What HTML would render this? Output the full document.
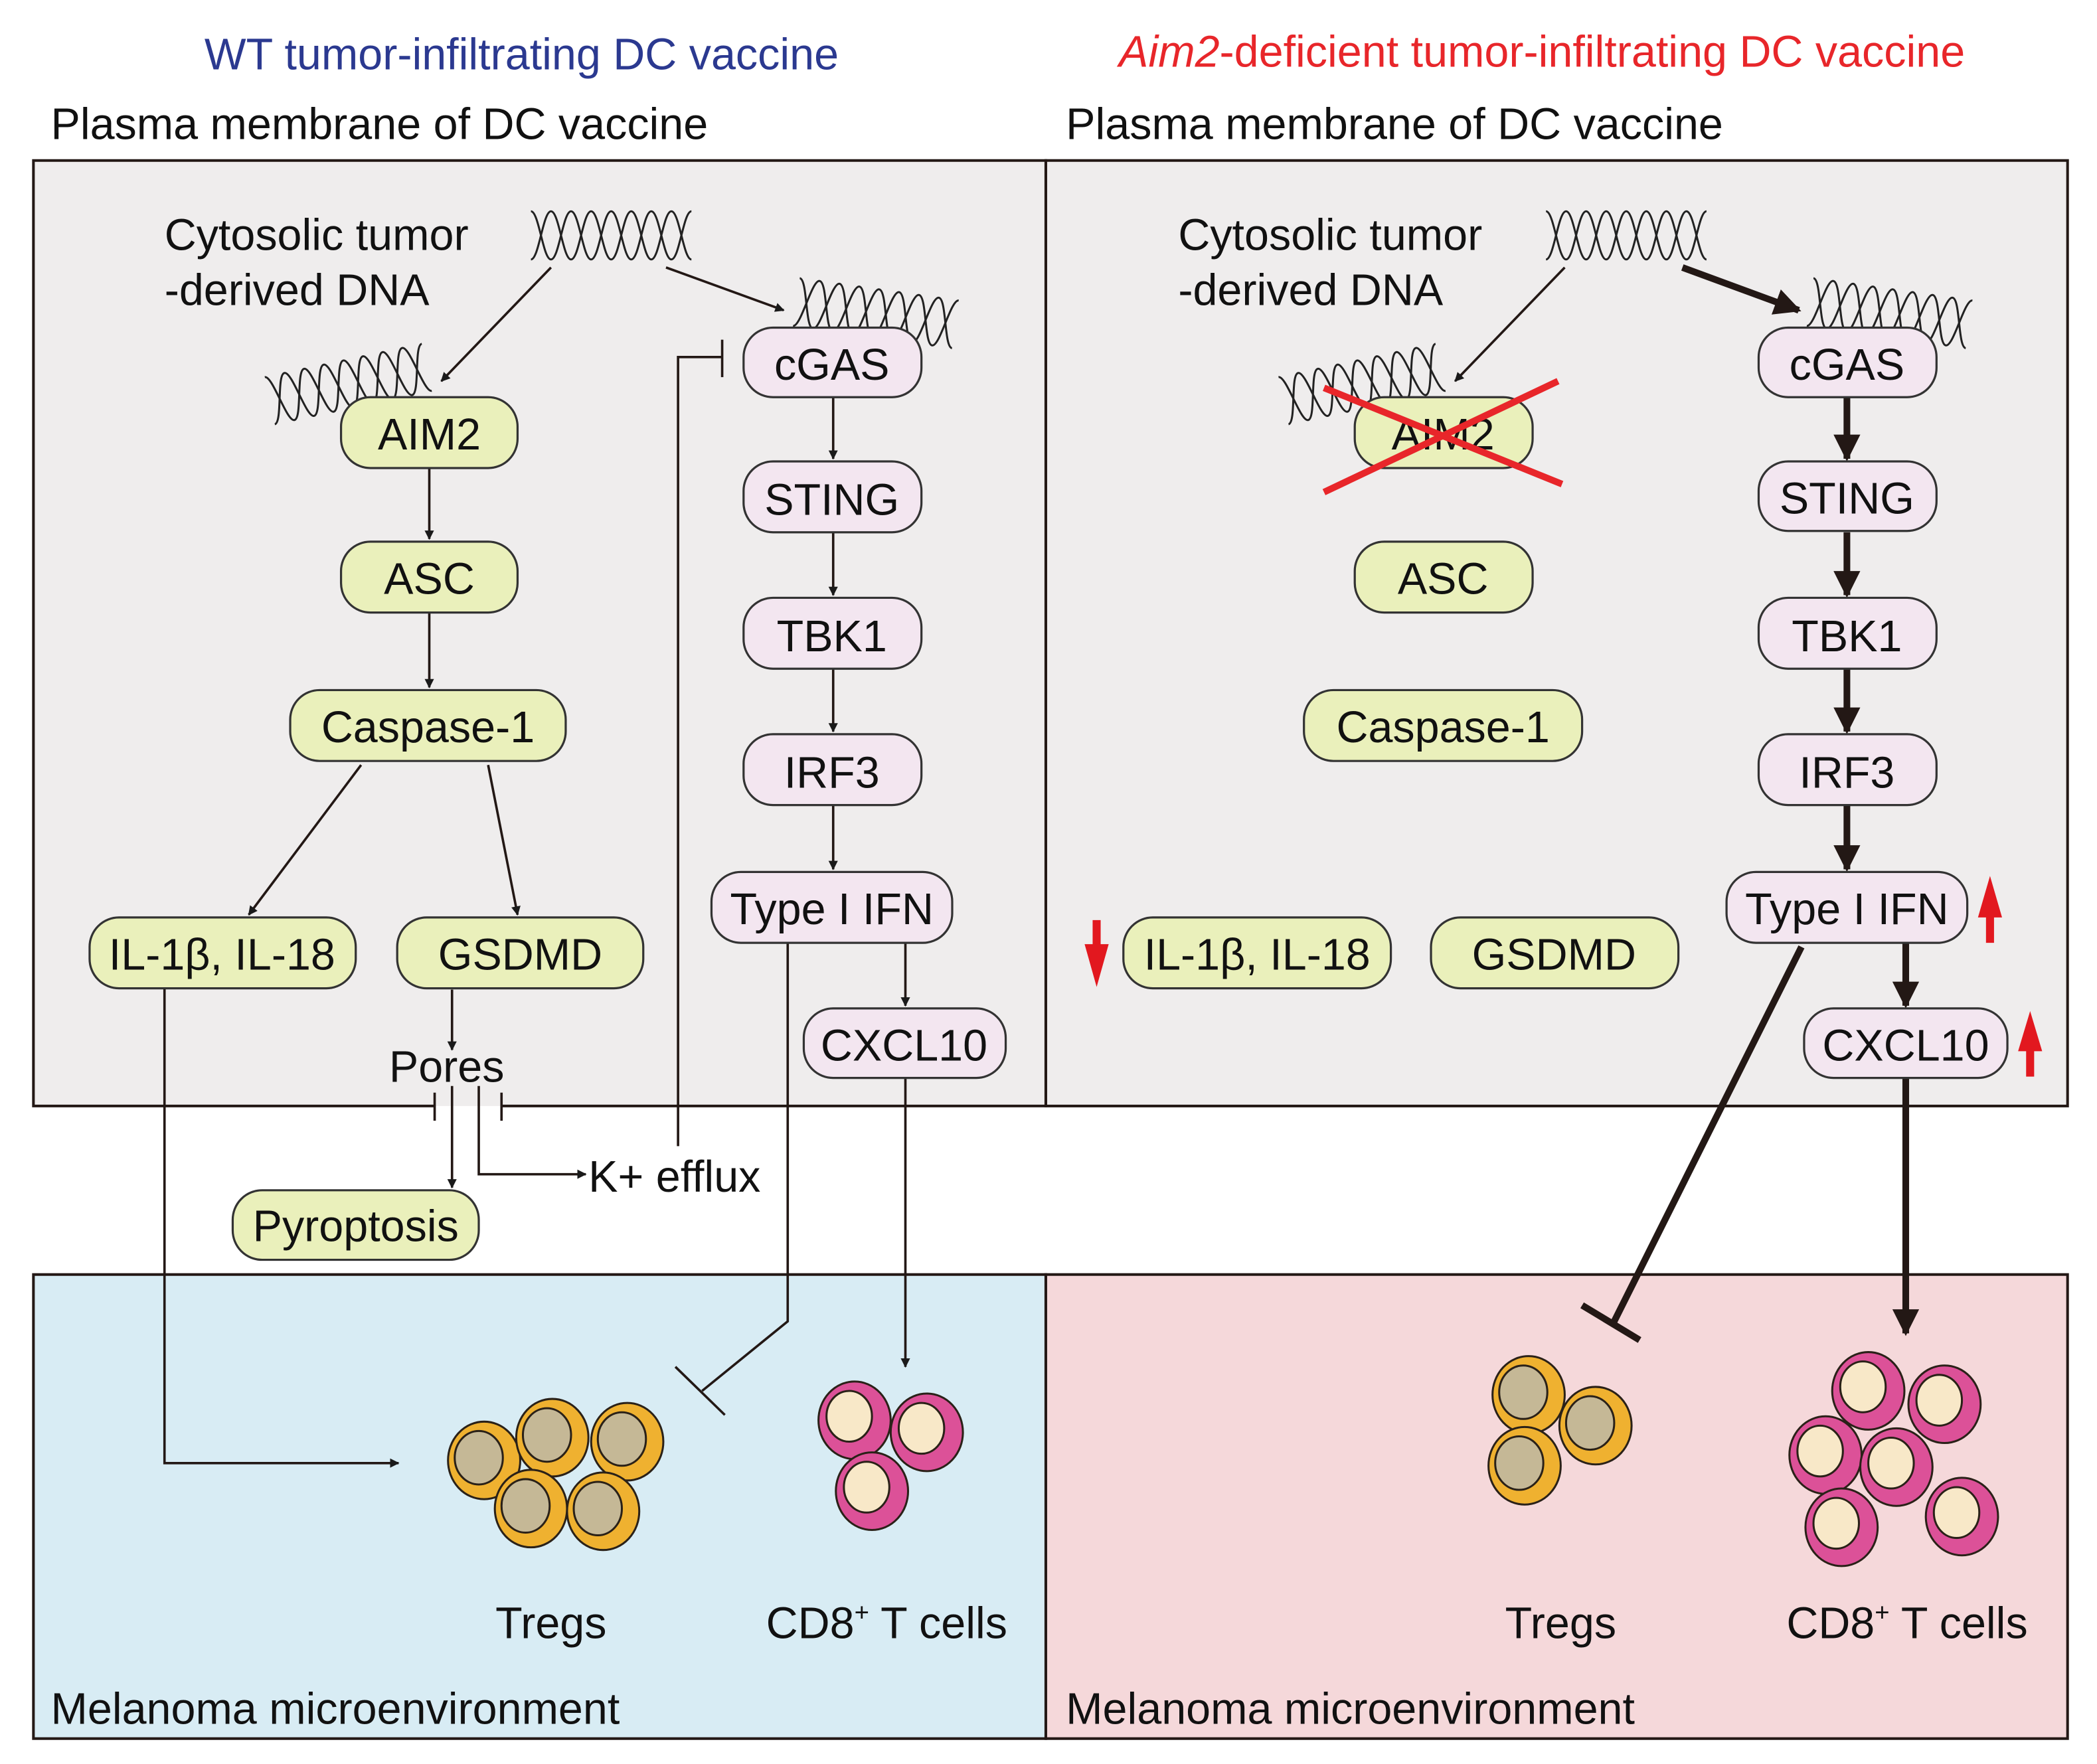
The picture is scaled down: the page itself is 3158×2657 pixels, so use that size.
<!DOCTYPE html>
<html><head><meta charset="utf-8">
<style>
html,body{margin:0;padding:0;background:#fff;}
svg{display:block;}
text{font-family:"Liberation Sans",Arial,sans-serif;}
</style></head>
<body>
<svg width="3158" height="2657" viewBox="0 0 1568 1319" preserveAspectRatio="none" xmlns="http://www.w3.org/2000/svg">
<defs>
<marker id="a" viewBox="0 0 10 10" refX="9" refY="5" markerWidth="7" markerHeight="7" markerUnits="userSpaceOnUse" orient="auto"><path d="M0,0 L10,5 L0,10 z" fill="#1a1a1a"/></marker>
<marker id="a2" viewBox="0 0 10 10" refX="9" refY="5" markerWidth="4" markerHeight="4" orient="auto"><path d="M0,0 L10,5 L0,10 z" fill="#231815"/></marker>
<g id="hx" fill="none" stroke="#222" stroke-width="1.5">
<path d="M0,0 c6,0 9,36 15,36 c6,0 9,-36 15,-36 c6,0 9,36 15,36 c6,0 9,-36 15,-36 c6,0 9,36 15,36 c6,0 9,-36 15,-36 c6,0 9,36 15,36 c6,0 9,-36 15,-36"/>
<path d="M0,36 c6,0 9,-36 15,-36 c6,0 9,36 15,36 c6,0 9,-36 15,-36 c6,0 9,36 15,36 c6,0 9,-36 15,-36 c6,0 9,36 15,36 c6,0 9,-36 15,-36 c6,0 9,36 15,36"/>
</g>
<g id="tr"><ellipse cx="0" cy="0" rx="27" ry="29" fill="#efb130" stroke="#2a2118" stroke-width="1.5"/><ellipse cx="-4" cy="-2" rx="18" ry="20" fill="#c5b896" stroke="#2a2118" stroke-width="1.5"/></g>
<g id="cd"><ellipse cx="0" cy="0" rx="27" ry="29" fill="#dc5198" stroke="#2a2118" stroke-width="1.5"/><ellipse cx="-4" cy="-3" rx="17" ry="19" fill="#f8e8c8" stroke="#2a2118" stroke-width="1.5"/></g>
</defs>

<!-- titles -->
<text x="390" y="52" font-size="33" fill="#2b3990" text-anchor="middle">WT tumor-infiltrating DC vaccine</text>
<text x="1153" y="50" font-size="33" fill="#e8262a" text-anchor="middle"><tspan font-style="italic">Aim2</tspan>-deficient tumor-infiltrating DC vaccine</text>
<text x="38" y="104" font-size="33" fill="#111">Plasma membrane of DC vaccine</text>
<text x="797" y="104" font-size="33" fill="#111">Plasma membrane of DC vaccine</text>

<!-- panels -->
<rect x="25" y="120" width="757" height="707" fill="#efeded"/>
<rect x="782" y="120" width="764" height="707" fill="#efeded" stroke="#231815" stroke-width="2"/>
<path d="M325,827 L25,827 L25,120 L782,120 L782,827 L375,827" fill="none" stroke="#231815" stroke-width="2"/>
<rect x="25" y="953" width="757" height="347" fill="#d8ecf4" stroke="#231815" stroke-width="2"/>
<rect x="782" y="953" width="764" height="347" fill="#f5d8da" stroke="#231815" stroke-width="2"/>

<!-- LEFT top -->
<text x="123" y="187" font-size="33" fill="#111">Cytosolic tumor</text>
<text x="123" y="228" font-size="33" fill="#111">-derived DNA</text>
<use href="#hx" x="397" y="158"/>
<use href="#hx" transform="translate(598,208) rotate(8)"/>
<use href="#hx" transform="translate(198,282) rotate(-12)"/>
<g stroke="#231815" stroke-width="1.8" fill="none">
<line x1="412" y1="200" x2="330" y2="285" marker-end="url(#a)"/>
<line x1="498" y1="200" x2="586" y2="232" marker-end="url(#a)"/>
<line x1="321" y1="350" x2="321" y2="403" marker-end="url(#a)"/>
<line x1="321" y1="458" x2="321" y2="514" marker-end="url(#a)"/>
<line x1="270" y1="572" x2="186" y2="684" marker-end="url(#a)"/>
<line x1="365" y1="572" x2="387" y2="684" marker-end="url(#a)"/>
<line x1="338" y1="740" x2="338" y2="785" marker-end="url(#a)"/>
<line x1="338" y1="812" x2="338" y2="888" marker-end="url(#a)"/>
<polyline points="358,812 358,878 438,878" marker-end="url(#a)"/>
<line x1="325" y1="817" x2="325" y2="838"/>
<line x1="375" y1="817" x2="375" y2="838"/>
<polyline points="507,857 507,267 540,267"/>
<line x1="540" y1="254" x2="540" y2="282"/>
<line x1="623" y1="297" x2="623" y2="343" marker-end="url(#a)"/>
<line x1="623" y1="398" x2="623" y2="445" marker-end="url(#a)"/>
<line x1="623" y1="500" x2="623" y2="547" marker-end="url(#a)"/>
<line x1="623" y1="602" x2="623" y2="650" marker-end="url(#a)"/>
<line x1="677" y1="705" x2="677" y2="752" marker-end="url(#a)"/>
<line x1="677" y1="806" x2="677" y2="1022" marker-end="url(#a)"/>
<polyline points="589,705 589,988 525,1040"/>
<line x1="505" y1="1022" x2="542" y2="1058"/>
<polyline points="123,739 123,1094 298,1094" marker-end="url(#a)"/>
</g>
<g font-size="30" text-anchor="middle" fill="#111" stroke="#333" stroke-width="1.6">
<rect x="255" y="297" width="132" height="53" rx="22" fill="#eaf0bb"/>
<rect x="255" y="405" width="132" height="53" rx="22" fill="#eaf0bb"/>
<rect x="217" y="516" width="206" height="53" rx="22" fill="#eaf0bb"/>
<rect x="67" y="686" width="199" height="53" rx="22" fill="#eaf0bb"/>
<rect x="297" y="686" width="184" height="53" rx="22" fill="#eaf0bb"/>
<rect x="174" y="890" width="184" height="52" rx="22" fill="#eaf0bb"/>
<rect x="556" y="245" width="133" height="52" rx="22" fill="#f3e6f0"/>
<rect x="556" y="345" width="133" height="53" rx="22" fill="#f3e6f0"/>
<rect x="556" y="447" width="133" height="53" rx="22" fill="#f3e6f0"/>
<rect x="556" y="549" width="133" height="53" rx="22" fill="#f3e6f0"/>
<rect x="532" y="652" width="180" height="53" rx="22" fill="#f3e6f0"/>
<rect x="601" y="754" width="151" height="52" rx="22" fill="#f3e6f0"/>
</g>
<g font-size="33" text-anchor="middle" fill="#111">
<text x="321" y="336">AIM2</text>
<text x="321" y="444">ASC</text>
<text x="320" y="555">Caspase-1</text>
<text x="166" y="725">IL-1β, IL-18</text>
<text x="389" y="725">GSDMD</text>
<text x="266" y="928">Pyroptosis</text>
<text x="622" y="284">cGAS</text>
<text x="622" y="385">STING</text>
<text x="622" y="487">TBK1</text>
<text x="622" y="589">IRF3</text>
<text x="622" y="691">Type I IFN</text>
<text x="676" y="793">CXCL10</text>
<text x="334" y="809">Pores</text>
</g>
<text x="440" y="891" font-size="33" fill="#111">K+ efflux</text>

<!-- LEFT bottom cells -->
<use href="#tr" x="362" y="1092"/><use href="#tr" x="413" y="1075"/><use href="#tr" x="469" y="1078"/><use href="#tr" x="397" y="1128"/><use href="#tr" x="451" y="1130"/>
<use href="#cd" x="639" y="1062"/><use href="#cd" x="693" y="1071"/><use href="#cd" x="652" y="1115"/>
<text x="412" y="1225" font-size="33" text-anchor="middle" fill="#111">Tregs</text>
<text x="663" y="1225" font-size="33" text-anchor="middle" fill="#111">CD8<tspan font-size="19" dy="-13">+</tspan><tspan dy="13"> T cells</tspan></text>
<text x="38" y="1289" font-size="33" fill="#111">Melanoma microenvironment</text>

<!-- RIGHT top -->
<text x="881" y="187" font-size="33" fill="#111">Cytosolic tumor</text>
<text x="881" y="228" font-size="33" fill="#111">-derived DNA</text>
<use href="#hx" x="1156" y="158"/>
<use href="#hx" transform="translate(1356,208) rotate(8)"/>
<use href="#hx" transform="translate(956,282) rotate(-12)"/>
<g stroke="#231815" stroke-width="1.8" fill="none">
<line x1="1170" y1="200" x2="1088" y2="285" marker-end="url(#a)"/>
</g>
<g stroke="#231815" stroke-width="5" fill="none">
<line x1="1258" y1="200" x2="1345" y2="232" marker-end="url(#a2)"/>
<line x1="1381" y1="297" x2="1381" y2="343" marker-end="url(#a2)"/>
<line x1="1381" y1="398" x2="1381" y2="445" marker-end="url(#a2)"/>
<line x1="1381" y1="500" x2="1381" y2="547" marker-end="url(#a2)"/>
<line x1="1381" y1="602" x2="1381" y2="650" marker-end="url(#a2)"/>
<line x1="1425" y1="705" x2="1425" y2="752" marker-end="url(#a2)"/>
<line x1="1425" y1="806" x2="1425" y2="997" marker-end="url(#a2)"/>
<line x1="1347" y1="708" x2="1206" y2="990"/>
<line x1="1183" y1="976" x2="1226" y2="1002"/>
</g>
<g stroke="#333" stroke-width="1.6">
<rect x="1013" y="297" width="133" height="53" rx="22" fill="#eaf0bb"/>
<rect x="1013" y="405" width="133" height="53" rx="22" fill="#eaf0bb"/>
<rect x="975" y="516" width="208" height="53" rx="22" fill="#eaf0bb"/>
<rect x="840" y="686" width="200" height="53" rx="22" fill="#eaf0bb"/>
<rect x="1070" y="686" width="185" height="53" rx="22" fill="#eaf0bb"/>
<rect x="1315" y="245" width="133" height="52" rx="22" fill="#f3e6f0"/>
<rect x="1315" y="345" width="133" height="52" rx="22" fill="#f3e6f0"/>
<rect x="1315" y="447" width="133" height="53" rx="22" fill="#f3e6f0"/>
<rect x="1315" y="549" width="133" height="53" rx="22" fill="#f3e6f0"/>
<rect x="1291" y="652" width="180" height="53" rx="22" fill="#f3e6f0"/>
<rect x="1349" y="754" width="152" height="52" rx="22" fill="#f3e6f0"/>
</g>
<g font-size="33" text-anchor="middle" fill="#111">
<text x="1079" y="336">AIM2</text>
<text x="1079" y="444">ASC</text>
<text x="1079" y="555">Caspase-1</text>
<text x="940" y="725">IL-1β, IL-18</text>
<text x="1162" y="725">GSDMD</text>
<text x="1381" y="284">cGAS</text>
<text x="1381" y="384">STING</text>
<text x="1381" y="487">TBK1</text>
<text x="1381" y="589">IRF3</text>
<text x="1381" y="691">Type I IFN</text>
<text x="1425" y="793">CXCL10</text>
</g>
<g stroke="#e8262a" stroke-width="5">
<line x1="990" y1="368" x2="1165" y2="285"/>
<line x1="990" y1="290" x2="1168" y2="362"/>
</g>
<g fill="#e2181f">
<polygon points="817,706 817,688 823,688 823,706 829,706 820,738 811,706"/>
<polygon points="1485,705 1485,686 1479,686 1488,655 1497,686 1491,686 1491,705"/>
<polygon points="1515,805 1515,786 1509,786 1518,756 1527,786 1521,786 1521,805"/>
</g>

<!-- RIGHT bottom cells -->
<use href="#tr" x="1143" y="1043"/><use href="#tr" x="1193" y="1066"/><use href="#tr" x="1140" y="1096"/>
<use href="#cd" x="1397" y="1040"/><use href="#cd" x="1454" y="1050"/><use href="#cd" x="1365" y="1088"/><use href="#cd" x="1418" y="1097"/><use href="#cd" x="1467" y="1134"/><use href="#cd" x="1377" y="1142"/>
<text x="1167" y="1225" font-size="33" text-anchor="middle" fill="#111">Tregs</text>
<text x="1426" y="1225" font-size="33" text-anchor="middle" fill="#111">CD8<tspan font-size="19" dy="-13">+</tspan><tspan dy="13"> T cells</tspan></text>
<text x="797" y="1289" font-size="33" fill="#111">Melanoma microenvironment</text>
</svg>
</body></html>
